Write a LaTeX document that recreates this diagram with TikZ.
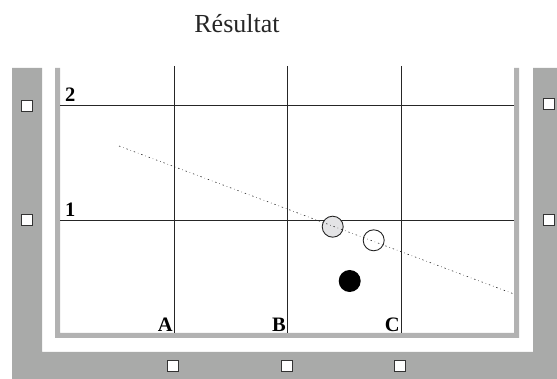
\documentclass[tikz,border=0pt]{standalone}
\usepackage{fontspec}
\setmainfont{Liberation Serif}
\definecolor{framegray}{RGB}{169,170,169}
\definecolor{bargray}{RGB}{178,178,178}
\definecolor{ballgray}{RGB}{228,228,230}
\begin{document}
\begin{tikzpicture}[x=1pt,y=-1pt,
  sq/.style={draw=black!80, fill=white, line width=0.9pt, minimum size=11.5pt, inner sep=0pt},
  lbl/.style={font=\fontsize{20.5}{20.5}\selectfont\bfseries, inner sep=0pt},
  gridline/.style={line width=0.9pt, black!85},
  ball/.style={draw=black!85, line width=0.9pt},
  traj/.style={line width=0.6pt, black!85, dash pattern=on 1.4pt off 3pt on 0.5pt off 3pt}]
\useasboundingbox (0,0) rectangle (557,379);
% outer frame
\fill[framegray] (12,68) -- (42,68) -- (42,352) -- (533,352) -- (533,68) -- (557,68) -- (557,379) -- (12,379) -- cycle;
% inner thin frame
\fill[bargray] (55,68) -- (60,68) -- (60,333) -- (514,333) -- (514,68) -- (519,68) -- (519,338) -- (55,338) -- cycle;
% grid
\draw[gridline] (174,66) -- (174,333);
\draw[gridline] (287,66) -- (287,333);
\draw[gridline] (401,66) -- (401,333);
\draw[gridline] (60,105) -- (514,105);
\draw[gridline] (60,220) -- (514,220);
% labels
\node[lbl, anchor=base west] (l2) at (65,102) {2};
\node[lbl, anchor=base west] (l1) at (65,217) {1};
\node[lbl, anchor=base east] (la) at (173,331) {A};
\node[lbl, anchor=base east] (lb) at (286,331) {B};
\node[lbl, anchor=base east] (lc) at (400,331) {C};
% title
\node[font=\fontsize{26}{26}\selectfont, anchor=base, inner sep=0pt, text=black!85] (title) at (237,33) {Résultat};
% balls
\draw[ball, fill=ballgray] (332.7,226.7) circle (10.5);
\draw[ball, fill=white] (373.7,240.3) circle (10.5);
\fill[black] (349.7,281) circle (11);
% trajectory
\draw[traj] (119,146) -- (514,294);
% squares
\node[sq] (s1) at (27,106) {};
\node[sq] (s2) at (27,220) {};
\node[sq] (s3) at (549,104) {};
\node[sq] (s4) at (549,220) {};
\node[sq] (s5) at (173,366) {};
\node[sq] (s6) at (287,366) {};
\node[sq] (s7) at (400,366) {};
\end{tikzpicture}
\end{document}
